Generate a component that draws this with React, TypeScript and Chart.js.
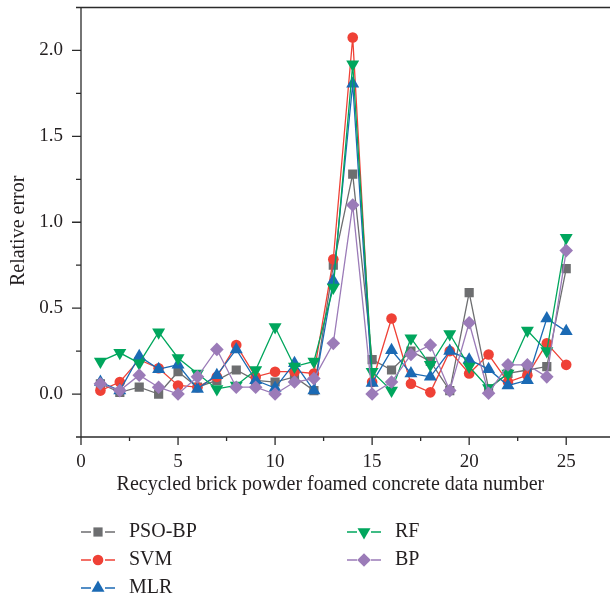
import React, { useEffect, useRef } from 'react';
import { Chart, registerables } from 'chart.js';

Chart.register(...registerables);

// Sample index on the horizontal axis
const dataNumbers = [1, 2, 3, 4, 5, 6, 7, 8, 9, 10, 11, 12, 13, 14, 15, 16, 17, 18, 19, 20, 21, 22, 23, 24, 25];

// Relative error of each model
const psoBp = [0.06, 0.01, 0.04, 0.0, 0.13, 0.04, 0.08, 0.14, 0.08, 0.07, 0.1, 0.02, 0.75, 1.28, 0.2, 0.14, 0.25, 0.19, 0.02, 0.59, 0.03, 0.12, 0.14, 0.16, 0.73];
const svm = [0.02, 0.07, 0.2, 0.15, 0.05, 0.04, 0.1, 0.285, 0.1, 0.13, 0.13, 0.12, 0.785, 2.075, 0.07, 0.44, 0.06, 0.01, 0.25, 0.12, 0.23, 0.07, 0.11, 0.295, 0.17];
const mlr = [0.07, 0.02, 0.22, 0.145, 0.17, 0.03, 0.11, 0.26, 0.08, 0.035, 0.18, 0.02, 0.66, 1.806, 0.065, 0.255, 0.12, 0.1, 0.25, 0.2, 0.145, 0.05, 0.08, 0.44, 0.365];
const rf = [0.19, 0.24, 0.18, 0.36, 0.21, 0.12, 0.03, 0.05, 0.14, 0.39, 0.16, 0.19, 0.62, 1.92, 0.13, 0.02, 0.325, 0.17, 0.35, 0.16, 0.035, 0.12, 0.37, 0.25, 0.91];
const bp = [0.06, 0.02, 0.11, 0.04, 0.0, 0.1, 0.26, 0.04, 0.04, 0.0, 0.07, 0.09, 0.295, 1.1, 0.0, 0.07, 0.23, 0.285, 0.02, 0.415, 0.005, 0.17, 0.17, 0.1, 0.835];

// Axis ticks
const xMajorTicks = [0, 5, 10, 15, 20, 25];
const xMinorTicks = [2.5, 7.5, 12.5, 17.5, 22.5];
const yMajorTicks = [0, 0.5, 1.0, 1.5, 2.0];
const yMinorTicks = [-0.25, 0.25, 0.75, 1.25, 1.75, 2.25];

const X_TITLE = 'Recycled brick powder foamed concrete data number';
const Y_TITLE = 'Relative error';
const FONT = '"Liberation Serif", "DejaVu Serif", serif';
const TEXT = '#231f20';
const AXIS = '#2b2b2b';

type Marker = 'square' | 'circle' | 'triangle' | 'triangleDown' | 'diamond';

const seriesDefs: { label: string; values: number[]; color: string; marker: Marker }[] = [
  { label: 'PSO-BP', values: psoBp, color: '#6d6e70', marker: 'square' },
  { label: 'SVM', values: svm, color: '#ef4136', marker: 'circle' },
  { label: 'MLR', values: mlr, color: '#1b6ab4', marker: 'triangle' },
  { label: 'RF', values: rf, color: '#00a65d', marker: 'triangleDown' },
  { label: 'BP', values: bp, color: '#9b7bb8', marker: 'diamond' },
];

const markerStyle: Record<Marker, { pointStyle: any; radius: number; rotation: number }> = {
  square: { pointStyle: 'rect', radius: 6.5, rotation: 0 },
  circle: { pointStyle: 'circle', radius: 5.3, rotation: 0 },
  triangle: { pointStyle: 'triangle', radius: 7.5, rotation: 0 },
  triangleDown: { pointStyle: 'triangle', radius: 7.5, rotation: 180 },
  diamond: { pointStyle: 'rectRot', radius: 6.8, rotation: 0 },
};

// Legend layout: two columns, items listed column by column
const legendColumns = [
  { lineX: 81, textX: 129, rows: [0, 1, 2] },
  { lineX: 347, textX: 395, rows: [3, 4] },
];
const legendRowY = [532, 560, 588];

function drawMarker(ctx: CanvasRenderingContext2D, m: Marker, x: number, y: number, color: string) {
  ctx.fillStyle = color;
  ctx.beginPath();
  if (m === 'square') {
    const s = 4.6;
    ctx.rect(x - s, y - s, 2 * s, 2 * s);
  } else if (m === 'circle') {
    ctx.arc(x, y, 5.3, 0, Math.PI * 2);
  } else if (m === 'triangle' || m === 'triangleDown') {
    const r = 7.5;
    const d = m === 'triangle' ? 1 : -1;
    ctx.moveTo(x, y - d * r);
    ctx.lineTo(x + r * 0.866, y + d * r * 0.5);
    ctx.lineTo(x - r * 0.866, y + d * r * 0.5);
    ctx.closePath();
  } else {
    const r = 6.8;
    ctx.moveTo(x, y - r);
    ctx.lineTo(x + r, y);
    ctx.lineTo(x, y + r);
    ctx.lineTo(x - r, y);
    ctx.closePath();
  }
  ctx.fill();
}

const framePlugin = {
  id: 'frame',
  beforeDatasetsDraw(chart: any) {
    const { ctx, chartArea: a, scales } = chart;
    const x = scales.x;
    const y = scales.y;
    ctx.save();
    ctx.strokeStyle = AXIS;
    ctx.lineWidth = 1.3;
    ctx.beginPath();
    // left axis, bottom axis and top edge
    ctx.moveTo(a.left, a.top);
    ctx.lineTo(a.left, a.bottom);
    ctx.moveTo(a.left - 5, a.bottom);
    ctx.lineTo(chart.width, a.bottom);
    ctx.moveTo(a.left - 5, a.top);
    ctx.lineTo(chart.width, a.top);
    // x ticks (outward)
    xMajorTicks.forEach((v) => {
      const px = x.getPixelForValue(v);
      ctx.moveTo(px, a.bottom);
      ctx.lineTo(px, a.bottom + 8);
    });
    xMinorTicks.forEach((v) => {
      const px = x.getPixelForValue(v);
      ctx.moveTo(px, a.bottom);
      ctx.lineTo(px, a.bottom + 4);
    });
    // y ticks (outward)
    yMajorTicks.forEach((v) => {
      const py = y.getPixelForValue(v);
      ctx.moveTo(a.left, py);
      ctx.lineTo(a.left - 9, py);
    });
    yMinorTicks.forEach((v) => {
      const py = y.getPixelForValue(v);
      ctx.moveTo(a.left, py);
      ctx.lineTo(a.left - 5, py);
    });
    ctx.stroke();
    ctx.restore();
  },
  afterDraw(chart: any) {
    const { ctx, chartArea: a, scales } = chart;
    const x = scales.x;
    const y = scales.y;
    ctx.save();
    ctx.fillStyle = TEXT;
    ctx.font = `20px ${FONT}`;
    ctx.textBaseline = 'middle';

    // axis titles
    ctx.textAlign = 'center';
    ctx.fillText(X_TITLE, x.getPixelForValue(12.85), a.bottom + 48);
    ctx.save();
    ctx.translate(19, y.getPixelForValue(0.95));
    ctx.rotate(-Math.PI / 2);
    ctx.fillText(Y_TITLE, 0, 0);
    ctx.restore();

    // legend
    ctx.textAlign = 'left';
    legendColumns.forEach((col) => {
      col.rows.forEach((idx, r) => {
        const s = seriesDefs[idx];
        const ly = legendRowY[r];
        const cx = col.lineX + 17;
        ctx.strokeStyle = s.color;
        ctx.lineWidth = 1.3;
        ctx.beginPath();
        ctx.moveTo(col.lineX, ly);
        ctx.lineTo(cx - 7, ly);
        ctx.moveTo(cx + 7, ly);
        ctx.lineTo(col.lineX + 34, ly);
        ctx.stroke();
        drawMarker(ctx, s.marker, cx, ly, s.color);
        ctx.fillStyle = TEXT;
        ctx.fillText(s.label, col.textX, ly);
      });
    });
    ctx.restore();
  },
};

export default function App() {
  const canvasRef = useRef<HTMLCanvasElement | null>(null);

  useEffect(() => {
    if (!canvasRef.current) return;
    const datasets = seriesDefs.map((s, i) => {
      const m = markerStyle[s.marker];
      return {
        label: s.label,
        data: dataNumbers.map((n, k) => ({ x: n, y: s.values[k] })),
        borderColor: s.color,
        backgroundColor: s.color,
        borderWidth: 1.3,
        pointStyle: m.pointStyle,
        pointRadius: m.radius,
        pointRotation: m.rotation,
        pointBorderWidth: 0,
        pointBackgroundColor: s.color,
        pointBorderColor: s.color,
        tension: 0,
        fill: false,
        order: seriesDefs.length - i,
      };
    });

    const chart = new Chart(canvasRef.current, {
      type: 'line',
      data: { datasets },
      plugins: [framePlugin],
      options: {
        animation: false,
        responsive: false,
        devicePixelRatio: 1,
        layout: { padding: { top: 7, right: 0, left: 0, bottom: 0 } },
        plugins: { legend: { display: false }, tooltip: { enabled: false } },
        scales: {
          x: {
            type: 'linear',
            min: 0,
            max: 26.87,
            grid: { display: false, drawTicks: false },
            border: { display: false },
            afterBuildTicks: (scale: any) => {
              scale.ticks = xMajorTicks.map((v) => ({ value: v }));
            },
            ticks: {
              padding: 14,
              color: TEXT,
              font: { family: FONT, size: 19 },
              maxRotation: 0,
              autoSkip: false,
              callback: (v: any) => String(v),
            },
            afterFit: (scale: any) => {
              scale.height = 162;
              scale.paddingLeft = 0;
              scale.paddingRight = 0;
            },
          },
          y: {
            type: 'linear',
            min: -0.25,
            max: 2.25,
            grid: { display: false, drawTicks: false },
            border: { display: false },
            afterBuildTicks: (scale: any) => {
              scale.ticks = yMajorTicks.map((v) => ({ value: v }));
            },
            ticks: {
              padding: 18,
              color: TEXT,
              autoSkip: false,
              font: { family: FONT, size: 19 },
              callback: (v: any) => Number(v).toFixed(1),
            },
            afterFit: (scale: any) => {
              scale.width = 81;
              scale.paddingTop = 0;
              scale.paddingBottom = 0;
            },
          },
        },
      },
    });
    return () => chart.destroy();
  }, []);

  return (
    <div style={{ position: 'absolute', left: 0, top: 0, width: 610, height: 599, background: '#fff' }}>
      <canvas ref={canvasRef} width={610} height={599} style={{ display: 'block' }} />
    </div>
  );
}
